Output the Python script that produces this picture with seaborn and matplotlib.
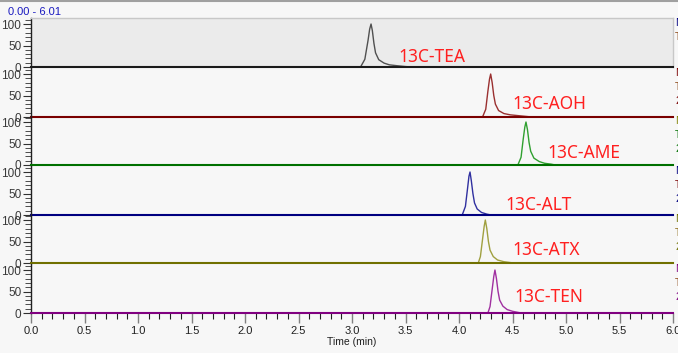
import matplotlib
matplotlib.use("Agg")
import matplotlib.pyplot as plt
from matplotlib.ticker import MultipleLocator
import seaborn as sns
import pandas as pd

sns.set_style("white")
plt.rcParams['font.family'] = ['Liberation Sans', 'DejaVu Sans']

names = ["13C-TEA", "13C-AOH", "13C-AME", "13C-ALT", "13C-ATX", "13C-TEN"]
colors = ["#1a1a1a", "#7a0000", "#007000", "#000080", "#707000", "#800080"]
peak_colors = ["#505050", "#9a3030", "#30a030", "#3030a0", "#a0a040", "#a030a0"]

tea_t = [0.0, 3.08, 3.12, 3.15, 3.165, 3.178, 3.19, 3.205, 3.22, 3.25, 3.30, 3.35, 3.42, 3.50, 3.56, 6.01]
tea_i = [0, 0, 18, 62, 88, 100, 85, 55, 33, 17, 9, 5, 3, 1, 0, 0]

aoh_t = [0.0, 4.22, 4.25, 4.27, 4.285, 4.296, 4.31, 4.325, 4.34, 4.37, 4.42, 4.48, 4.56, 4.64, 4.68, 6.01]
aoh_i = [0, 0, 18, 60, 88, 100, 80, 50, 30, 15, 8, 5, 3, 1, 0, 0]

ame_t = [0.0, 4.55, 4.58, 4.60, 4.615, 4.626, 4.64, 4.655, 4.67, 4.70, 4.75, 4.80, 4.86, 4.90, 6.01]
ame_i = [0, 0, 18, 60, 88, 100, 82, 52, 32, 16, 8, 4, 2, 0, 0]

alt_t = [0.0, 4.03, 4.06, 4.08, 4.093, 4.103, 4.115, 4.13, 4.145, 4.17, 4.21, 4.26, 4.30, 6.01]
alt_i = [0, 0, 20, 62, 90, 100, 80, 50, 28, 14, 6, 2, 0, 0]

atx_t = [0.0, 4.18, 4.20, 4.22, 4.235, 4.246, 4.26, 4.275, 4.29, 4.32, 4.36, 4.42, 4.48, 4.50, 6.01]
atx_i = [0, 0, 15, 55, 85, 100, 80, 50, 30, 15, 7, 3, 1, 0, 0]

ten_t = [0.0, 4.27, 4.29, 4.31, 4.325, 4.336, 4.35, 4.365, 4.38, 4.41, 4.45, 4.50, 4.56, 4.59, 6.01]
ten_i = [0, 0, 15, 55, 85, 100, 80, 50, 30, 16, 8, 4, 1, 0, 0]

times = [tea_t, aoh_t, ame_t, alt_t, atx_t, ten_t]
intens = [tea_i, aoh_i, ame_i, alt_i, atx_i, ten_i]

label_x = [3.43, 4.50, 4.83, 4.43, 4.50, 4.52]
label_y = [23, 30, 28, 23, 30, 37]

W, H = 678, 353
fig = plt.figure(figsize=(W / 100, H / 100), dpi=100, facecolor="#F7F7F7")

left_px, right_px = 31, 673
zero_px = [67, 117, 165, 215, 263, 313]
panel_h = 49

axes = []
for k in range(6):
    bottom = 1 - zero_px[k] / H
    ax = fig.add_axes([left_px / W, bottom, (right_px - left_px) / W, panel_h / H])
    axes.append(ax)
    df = pd.DataFrame({"t": times[k], "i": intens[k]})
    sns.lineplot(data=df, x="t", y="i", ax=ax, color=peak_colors[k], lw=1.0,
                 estimator=None, sort=False)
    ax.set_xlim(0, 6.0)
    ax.set_ylim(0, 114)
    ax.set_xlabel("")
    ax.set_ylabel("")
    if k == 0:
        ax.set_facecolor("#EBEBEB")
        for s in ["top", "right"]:
            ax.spines[s].set_visible(True)
            ax.spines[s].set_color("#C8C8C8")
            ax.spines[s].set_linewidth(1.0)
    else:
        ax.set_facecolor("none")
        ax.spines["top"].set_visible(False)
        ax.spines["right"].set_visible(False)
    ax.spines["left"].set_color("#202020")
    ax.spines["left"].set_linewidth(1.0)
    ax.spines["bottom"].set_color(colors[k])
    ax.spines["bottom"].set_linewidth(1.5)
    ax.yaxis.set_major_locator(MultipleLocator(50))
    ax.yaxis.set_minor_locator(MultipleLocator(10))
    ax.set_yticks([0, 50, 100])
    ax.tick_params(axis="y", which="major", direction="out", length=6, width=0.8,
                   labelsize=8.5, labelcolor="#3a3a3a", color="#303030", pad=1, left=True)
    ax.tick_params(axis="y", which="minor", direction="out", length=4, width=0.6,
                   color="#303030", left=True)
    ax.xaxis.set_major_locator(MultipleLocator(0.5))
    ax.xaxis.set_minor_locator(MultipleLocator(0.1))
    if k < 5:
        ax.tick_params(axis="x", which="both", bottom=False, labelbottom=False)
    else:
        ax.tick_params(axis="x", which="major", direction="out", length=7, width=1.0,
                       color="#808080", labelsize=8, labelcolor="#202020", bottom=True, pad=2)
        ax.tick_params(axis="x", which="minor", direction="out", length=4, width=0.8,
                       color="#202020", bottom=True)
        ax.set_xticks([0, 0.5, 1.0, 1.5, 2.0, 2.5, 3.0, 3.5, 4.0, 4.5, 5.0, 5.5, 6.0])
        ax.set_xticklabels(["0.0", "0.5", "1.0", "1.5", "2.0", "2.5", "3.0", "3.5",
                            "4.0", "4.5", "5.0", "5.5", "6.0"])
        ax.set_xlabel("Time (min)", fontsize=7.5, color="#202020", labelpad=1)
    ax.text(label_x[k], label_y[k], names[k], color="#FF2020", fontsize=12.5,
            family=["Noto Sans", "DejaVu Sans"], va="center", ha="left")

fig.text(8 / W, 1 - 12 / H, "0.00 - 6.01", color="#1a1aC0", fontsize=8, va="center")

side_texts = [["NL:", "TIC"], ["NL:", "TIC", "2"], ["NL:", "TIC", "2"],
              ["NL:", "TIC", "2"], ["NL:", "TIC", "2"], ["NL:", "TIC", "2"]]
side_colors = [["#000080", "#8B4513"], ["#7a0000", "#8B4513", "#7a0000"],
               ["#808000", "#007000", "#007000"], ["#000080", "#7a0000", "#000080"],
               ["#707000", "#8B6914", "#707000"], ["#800080", "#8B4513", "#800080"]]
for k in range(6):
    top_px = zero_px[k] - panel_h
    for j, (s, c) in enumerate(zip(side_texts[k], side_colors[k])):
        fig.text(675 / W, 1 - (top_px + 5 + j * 14) / H, s, color=c, fontsize=7.5, va="center")

fig.add_artist(plt.Line2D([0, 1], [1 - 1 / H, 1 - 1 / H], color="#A0A0A0", lw=1.5,
                          transform=fig.transFigure))

fig.savefig("out.png", dpi=100, facecolor=fig.get_facecolor())
